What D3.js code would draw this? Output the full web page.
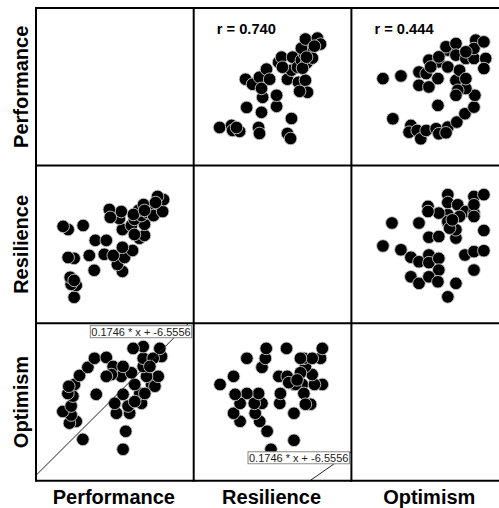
<!DOCTYPE html>
<html>
<head>
<meta charset="utf-8">
<script src="https://cdn.jsdelivr.net/npm/d3@7"></script>
<style>
body { margin: 0; background: #fff; }
text { font-family: "Liberation Sans", Arial, sans-serif; }
</style>
</head>
<body>
<svg width="499" height="508"></svg>
<script>
// variables of the matrix, in row / column order
var variables = ["Performance", "Resilience", "Optimism"];
var perfDomain = [100, 200],
    resDomain = [45, 115],
    optDomain = [10.3, 27.8];

// [Performance, Resilience]
var perfRes = [
  [124.2, 56.5], [125.5, 61.8], [122.3, 62.3], [121.7, 65.4], [124.2, 64.0],
  [124.2, 73.8], [120.4, 74.2], [120.4, 86.6], [117.2, 88.0], [129.9, 88.4],
  [136.9, 68.5], [133.8, 75.1], [137.6, 81.8], [144.6, 81.8], [143.3, 75.6],
  [154.8, 68.0], [151.6, 71.1], [156.1, 74.2], [149.0, 75.1], [161.2, 77.3],
  [154.8, 78.7], [165.6, 82.7], [168.8, 84.0], [154.8, 86.6], [160.5, 88.4],
  [168.8, 88.9], [152.9, 91.5], [154.1, 94.6], [146.5, 95.5], [147.1, 92.0],
  [162.4, 91.1], [166.9, 92.8], [170.7, 94.2], [165.0, 95.1], [173.3, 96.4],
  [168.2, 97.7], [174.5, 92.8], [180.3, 94.6], [180.9, 99.9], [177.1, 101.3],
  [175.8, 98.6], [162.4, 84.4], [161.8, 93.3], [168.8, 95.1]
];

// [Performance, Optimism]
var perfOpt = [
  [155.2, 13.8], [156.9, 15.8], [129.7, 14.9], [138.2, 19.9], [125.5, 16.9],
  [121.2, 16.7], [122.3, 17.6], [117.0, 18.0], [122.3, 18.6], [123.4, 19.7],
  [120.2, 20.0], [124.4, 21.0], [120.8, 20.8], [127.6, 22.0], [132.9, 22.9],
  [137.1, 23.9], [144.6, 24.0], [148.9, 23.0], [159.4, 17.8], [151.0, 17.8],
  [149.9, 18.9], [166.9, 18.9], [165.8, 20.0], [155.2, 19.9], [162.6, 21.0],
  [158.4, 18.6], [154.1, 21.9], [147.8, 22.1], [144.6, 21.9], [160.5, 22.3],
  [155.2, 23.0], [173.3, 21.0], [175.4, 20.8], [177.5, 21.9], [170.1, 21.9],
  [168.0, 23.0], [168.0, 23.9], [179.6, 24.1], [174.3, 23.9], [178.5, 25.0],
  [168.0, 25.2], [161.6, 25.0], [169.0, 20.0], [162.6, 19.1], [172.2, 23.0]
];

// [Resilience, Optimism]
var resOpt = [
  [89.5, 14.8], [79.3, 13.8], [89.5, 17.8], [77.6, 15.8], [74.3, 16.9],
  [72.3, 17.8], [75.3, 18.9], [71.9, 18.9], [73.8, 20.0], [68.6, 20.0],
  [65.6, 16.9], [62.7, 17.8], [65.6, 18.9], [63.4, 19.9], [56.7, 21.0],
  [62.7, 21.9], [68.6, 23.9], [75.3, 22.9], [76.8, 23.9], [77.2, 25.0],
  [86.2, 25.0], [83.2, 18.9], [83.5, 20.0], [82.8, 21.9], [86.5, 21.9],
  [89.5, 21.0], [93.2, 21.0], [90.2, 21.0], [87.2, 21.2], [93.9, 20.0],
  [96.9, 18.8], [94.6, 18.8], [102.1, 21.0], [98.6, 21.0], [97.6, 22.1],
  [94.6, 23.0], [93.9, 23.9], [101.3, 23.9], [97.6, 23.9], [102.1, 25.0],
  [92.4, 23.9], [92.4, 22.3], [90.9, 21.5]
];

var rLabels = ["r = 0.740", "r = 0.444"];   // Performance vs Resilience, Optimism
var fitSlope = 0.1746, fitIntercept = -6.5556;
var fitLabel = "0.1746 * x + -6.5556";

function main() {
  var svg = d3.select("svg"),
      left = 36, top = 8,
      cellW = 157.7, cellH = 157.6,
      n = variables.length;

  var domains = [perfDomain, resDomain, optDomain];
  var pairs = { "0-1": perfRes, "0-2": perfOpt, "1-2": resOpt };

  var xScales = domains.map(function(d) { return d3.scaleLinear().domain(d).range([0, cellW]); });
  var yScales = domains.map(function(d) { return d3.scaleLinear().domain(d).range([cellH, 0]); });

  var cells = [];
  for (var r = 0; r < n; r++)
    for (var c = 0; c < n; c++) cells.push({ row: r, col: c });

  var cell = svg.selectAll(".cell")
    .data(cells)
    .enter().append("g")
    .attr("class", "cell")
    .attr("transform", function(d) {
      return "translate(" + (left + d.col * cellW) + "," + (top + d.row * cellH) + ")";
    });

  svg.append("defs").selectAll("clipPath")
    .data(cells)
    .enter().append("clipPath")
    .attr("id", function(d) { return "clip" + d.row + d.col; })
    .append("rect")
    .attr("width", cellW).attr("height", cellH);

  cell.each(function(d) {
    if (d.row == d.col) return;
    var g = d3.select(this),
        x = xScales[d.col], y = yScales[d.row];
    var lo = Math.min(d.row, d.col), hi = Math.max(d.row, d.col);
    var data = pairs[lo + "-" + hi];
    var flip = d.col > d.row;   // x variable is the second value of the pair

    g.append("g")
      .attr("clip-path", "url(#clip" + d.row + d.col + ")")
      .selectAll("circle")
      .data(data)
      .enter().append("circle")
      .attr("cx", function(p) { return x(flip ? p[1] : p[0]); })
      .attr("cy", function(p) { return y(flip ? p[0] : p[1]); })
      .attr("r", 6.3)
      .attr("fill", "#000")
      .attr("stroke", "#c8c8c8")
      .attr("stroke-width", 0.9);

    // correlation in upper cells
    if (d.row == 0) {
      g.append("text")
        .attr("x", 23).attr("y", 26)
        .attr("font-size", "14.7px")
        .attr("font-weight", "bold")
        .text(rLabels[d.col - 1]);
    }

    // fit line in bottom row
    if (d.row == n - 1) {
      var xd = x.domain();
      g.append("line")
        .attr("clip-path", "url(#clip" + d.row + d.col + ")")
        .attr("x1", x(xd[0])).attr("y1", y(fitSlope * xd[0] + fitIntercept))
        .attr("x2", x(xd[1])).attr("y2", y(fitSlope * xd[1] + fitIntercept))
        .attr("stroke", "#222")
        .attr("stroke-width", 1);

      var exitY = Math.max(y(fitSlope * xd[1] + fitIntercept), 2.5);
      var box = g.append("g");
      var t = box.append("text")
        .attr("x", cellW - 3).attr("y", exitY + 10)
        .attr("text-anchor", "end")
        .attr("font-size", "11px")
        .attr("fill", "#222")
        .text(fitLabel);
      var bb = t.node().getBBox();
      box.insert("rect", "text")
        .attr("x", bb.x - 1).attr("y", exitY)
        .attr("width", bb.width + 2).attr("height", 12)
        .attr("fill", "#fff")
        .attr("stroke", "#888")
        .attr("stroke-width", 1);
    }
  });

  // grid
  var grid = svg.append("g").attr("stroke", "#000").attr("stroke-width", 2);
  d3.range(n + 1).forEach(function(i) {
    grid.append("line")
      .attr("x1", left).attr("x2", left + n * cellW)
      .attr("y1", top + i * cellH).attr("y2", top + i * cellH);
    grid.append("line")
      .attr("y1", top - 1).attr("y2", top + n * cellH + 1)
      .attr("x1", left + i * cellW).attr("x2", left + i * cellW);
  });

  // titles
  svg.selectAll(".rowTitle")
    .data(variables)
    .enter().append("text")
    .attr("class", "rowTitle")
    .attr("transform", function(d, i) {
      return "translate(28," + (top + (i + 0.5) * cellH) + ") rotate(-90)";
    })
    .attr("text-anchor", "middle")
    .attr("font-size", "20px")
    .attr("font-weight", "bold")
    .text(function(d) { return d; });

  svg.selectAll(".colTitle")
    .data(variables)
    .enter().append("text")
    .attr("class", "colTitle")
    .attr("x", function(d, i) { return left + (i + 0.5) * cellW - 1; })
    .attr("y", 504)
    .attr("text-anchor", "middle")
    .attr("font-size", "20px")
    .attr("font-weight", "bold")
    .text(function(d) { return d; });
}

main();
</script>
</body>
</html>
